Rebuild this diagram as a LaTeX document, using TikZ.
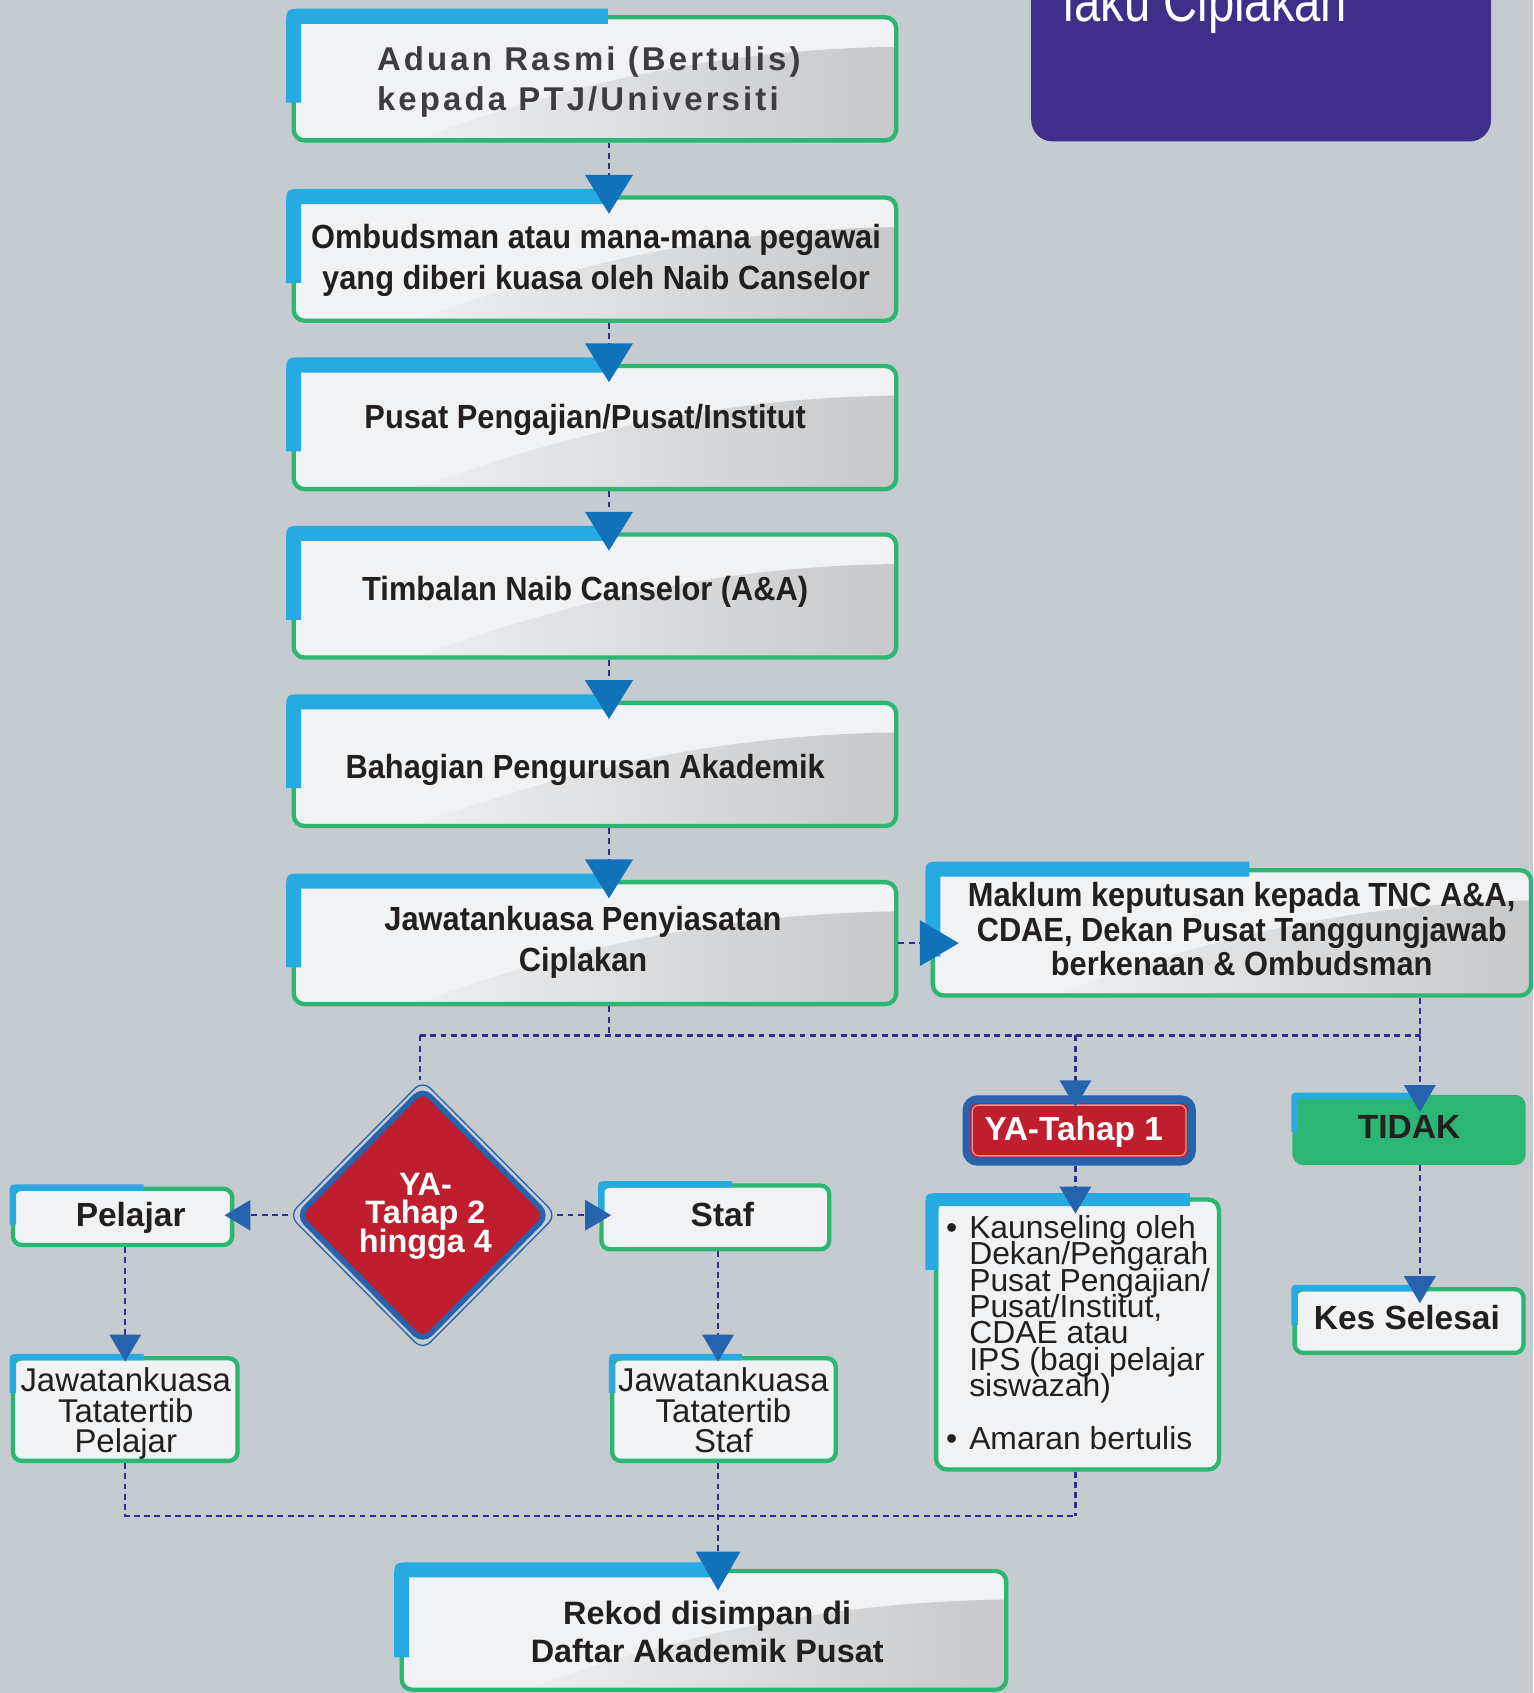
\documentclass[tikz,border=0pt]{standalone}
\usepackage{fontspec}
\setmainfont{Liberation Sans}
\newfontfamily\trackfont[LetterSpace=9.5]{Liberation Sans}
\usepackage{graphicx}
\usetikzlibrary{shapes.geometric,arrows.meta,calc}
\definecolor{bgc}{HTML}{C6CBCF}
\definecolor{boxf}{HTML}{F1F2F4}
\definecolor{gradL}{HTML}{EEEFF1}
\definecolor{gradR}{HTML}{C6C8CA}
\definecolor{grn}{HTML}{2BB673}
\definecolor{cyanb}{HTML}{27AAE1}
\definecolor{tric}{HTML}{1172BA}
\definecolor{tri2}{HTML}{2563AE}
\definecolor{dashc}{HTML}{2E3192}
\definecolor{redd}{HTML}{BE1E2D}
\definecolor{purp}{HTML}{3F2E8A}
\definecolor{txt}{HTML}{231F20}
\definecolor{txtg}{HTML}{3D3D3F}
\newcommand{\fcond}{\fontsize{31}{38}\selectfont\bfseries}
\newcommand{\fsb}{\fontsize{31}{31}\selectfont\bfseries}
\newcommand{\cond}[1]{\scalebox{0.92}[1]{\begin{tabular}{@{}c@{}}#1\end{tabular}}}
% blue L corner: outer x, outer y, thickness, bar end x, bar end y, radius
\newcommand{\BlueL}[6]{%
  \fill[cyanb] ({#1},{#5}) -- ({#1},{#2+#6}) .. controls ({#1},{#2}) .. ({#1+#6},{#2}) -- ({#4},{#2}) -- ({#4},{#2+#3}) -- ({#1+#3},{#2+#3}) -- ({#1+#3},{#5}) -- cycle;}
\newcommand{\Gloss}[4]{%
  \fill[boxf, rounded corners=10pt] ({#1},{#2}) rectangle ({#3},{#4});
  \begin{scope}
    \clip[rounded corners=10pt] ({#1},{#2}) rectangle ({#3},{#4});
    \shade[left color=gradL, right color=gradR] ({#1+0.2*(#3-#1)},{#4}) .. controls ({#1+0.45*(#3-#1)},{#4-0.45*(#4-#2)}) and ({#1+0.7*(#3-#1)},{#2+0.26*(#4-#2)}) .. ({#3},{#2+0.24*(#4-#2)}) -- ({#3},{#4}) -- cycle;
  \end{scope}}
% name, x0, y0, x1, y1, blue bar end x, blue bar end y
\newcommand{\BigBox}[7]{%
  \Gloss{#2}{#3}{#4}{#5}
  \draw[grn, line width=4pt, rounded corners=10pt] ({#2},{#3}) rectangle ({#4},{#5});
  \BlueL{#2-7}{#3-8}{14}{#6}{#7}{16}
  \node[inv, minimum width={(#4-#2)*1pt}, minimum height={(#5-#3)*1pt}] (#1) at ({(#2+#4)/2},{(#3+#5)/2}) {};}
\newcommand{\SmallBox}[7]{%
  \draw[grn, fill=boxf, line width=4pt, rounded corners=8pt] ({#2},{#3}) rectangle ({#4},{#5});
  \BlueL{#2-3}{#3-4}{6}{#6}{#7}{8}
  \node[inv, minimum width={(#4-#2)*1pt}, minimum height={(#5-#3)*1pt}] (#1) at ({(#2+#4)/2},{(#3+#5)/2}) {};}
\tikzset{
  inv/.style={inner sep=0pt, outer sep=0pt},
  dl/.style={draw=dashc, line width=2.2pt, dash pattern=on 5.5pt off 4pt},
  tipbig/.style={-{Triangle[width=44pt,length=36pt,color=tric]}},
  tipsm/.style={-{Triangle[width=29pt,length=25pt,color=tri2]}},
  tiph/.style={-{Triangle[width=28pt,length=24pt,color=tri2]}},
  tcond/.style={inner sep=0pt, text=txt, font=\fcond},
  tsb/.style={inner sep=0pt, anchor=base, text=txt, font=\fsb},
}
\begin{document}
\begin{tikzpicture}[x=1pt,y=-1pt]
\clip (0,0) rectangle (1420,1568);
\fill[bgc] (0,0) rectangle (1420,1568);

% title block
\node[fill=purp, rounded corners=20pt, minimum width=426pt, minimum height=171pt, inner sep=0pt] (ttl) at (1168,45.5) {};
\node[anchor=base west, inner sep=0pt, text=white, font=\fontsize{54}{54}\selectfont] (ttltxt) at (985,20) {\scalebox{0.81}[1]{laku Ciplakan}};

% main column
\BigBox{b1}{272}{16}{830}{130}{563}{95}
\BigBox{b2}{272}{183}{830}{297}{563}{262}
\BigBox{b3}{272}{339}{830}{453}{563}{418}
\BigBox{b4}{272}{495}{830}{609}{563}{574}
\BigBox{b5}{272}{651}{830}{765}{563}{730}
\BigBox{b6}{272}{817}{830}{930}{563}{896}
\BigBox{mak}{864}{806}{1418}{922}{1157}{886}
\BigBox{rek}{372}{1455}{932}{1565}{665}{1535}

% diamond
\node[diamond, draw=tri2, line width=1.2pt, minimum width=248pt, minimum height=250pt, inner sep=0pt, rounded corners=10pt] (diao) at (391.5,1125.5) {};
\node[diamond, draw=tri2, fill=redd, line width=5pt, minimum width=233pt, minimum height=236pt, inner sep=0pt, rounded corners=10pt] (dia) at (391.5,1125.5) {};

% small boxes
\SmallBox{pel}{12}{1101}{215}{1153}{133}{1134}
\SmallBox{staf}{557}{1098}{768}{1157}{678}{1125}
\SmallBox{jtp}{12}{1258}{220}{1353}{133}{1290}
\SmallBox{jts}{567}{1258}{774}{1353}{687}{1290}
\SmallBox{kes}{1199}{1194}{1411}{1253}{1309}{1227}

% TIDAK
\draw[grn, fill=grn, line width=4pt, rounded corners=8pt] (1199,1016) rectangle (1411,1077);
\BlueL{1196}{1012}{6}{1322}{1048}{8}
\node[inv, minimum width=212pt, minimum height=61pt] (tidak) at (1305,1046.5) {};

% YA-Tahap 1
\node[draw=tri2, fill=redd, line width=7pt, rounded corners=10pt, minimum width=209pt, minimum height=58pt, inner sep=0pt] (ya1) at (999.5,1047) {};
\draw[redd!45!white, line width=1.2pt, rounded corners=6pt] (900.5,1023.5) rectangle (1098.5,1070.5);

% bullet box
\draw[grn, fill=boxf, line width=4pt, rounded corners=10pt] (867,1111) rectangle (1129,1361);
\BlueL{857}{1105}{12}{1102}{1176}{14}
\node[inv, minimum width=262pt, minimum height=250pt] (bul) at (998,1236) {};

% connectors
\foreach \a/\b in {b1/b2,b2/b3,b3/b4,b4/b5,b5/b6}
  \draw[dl,tipbig] ($(\a.south)+(13,2)$) -- ($(\b.north)+(13,15)$);
\coordinate (jM) at (564,959);
\coordinate (jL) at (389,959);
\coordinate (jY) at (996,959);
\coordinate (jR) at (1315,959);
\draw[dl] ($(b6.south)+(13,2)$) -- (jM);
\draw[dl] (jL) -- (jR);
\draw[dl] ($(jR |- mak.south)+(0,2)$) -- (jR);
\draw[dl,tipsm] (jR) -- ($(jR |- tidak.north)+(0,14)$);
\draw[dl] (jL) -- (jL |- diao.north);
\draw[dl,tipsm] (jY) -- ($(jY |- ya1.north)+(0,11)$);
\draw[dl,tipsm] (jY |- ya1.south) -- ($(jY |- bul.north)+(0,13)$);
\draw[dl,-{Triangle[width=42pt,length=36pt,color=tric]}] ($(b6.east)+(2,0)$) -- ($(b6.east -| mak.west)+(24,0)$);
\draw[dl,tiph] (diao.west) -- ($(diao.west -| pel.east)+(-7,0)$);
\draw[dl,tiph] (diao.east) -- ($(diao.east -| staf.west)+(9,0)$);
\draw[dl,tipsm] ($(pel.south)+(2.5,2)$) -- ($(jtp.north)+(0,3)$);
\draw[dl,tipsm] ($(staf.south)+(2.5,2)$) -- ($(jts.north)+(-5.5,3)$);
\draw[dl,tipsm] ($(tidak.south)+(10,2)$) -- ($(kes.north)+(10,13)$);
\coordinate (kA) at (116,1404);
\coordinate (kB) at (665,1404);
\coordinate (kC) at (996,1404);
\draw[dl] ($(jtp.south)+(0,2)$) -- (kA) -- (kC);
\draw[dl] ($(bul.south -| kC)+(0,2)$) -- (kC);
\draw[dl,-{Triangle[width=41pt,length=36pt,color=tric]}] ($(jts.south -| kB)+(0,2)$) -- ($(kB |- rek.north)+(0,18)$);

% texts
\node[anchor=north west, inner sep=0pt, align=left, text=txtg, font={\trackfont\bfseries\fontsize{30.5}{37}\selectfont}] (t1) at (349,43) {Aduan Rasmi (Bertulis)\\kepada PTJ/Universiti};
\node[tcond, anchor=north] (t2) at (552,203.6) {\cond{Ombudsman atau mana-mana pegawai\\yang diberi kuasa oleh Naib Canselor}};
\node[tcond, anchor=base] (t3) at (542,397) {\scalebox{0.92}[1]{Pusat Pengajian/Pusat/Institut}};
\node[tcond, anchor=base] (t4) at (542,556) {\scalebox{0.92}[1]{Timbalan Naib Canselor (A\&A)}};
\node[tcond, anchor=base] (t5) at (542,721) {\scalebox{0.92}[1]{Bahagian Pengurusan Akademik}};
\node[tcond, anchor=north] (t6) at (540,834.9) {\cond{Jawatankuasa Penyiasatan\\Ciplakan}};
\node[tcond, anchor=north, font={\fontsize{31}{32}\selectfont\bfseries}] (t7) at (1150,816.8) {\cond{Maklum keputusan kepada TNC A\&A,\\CDAE, Dekan Pusat Tanggungjawab\\berkenaan \& Ombudsman}};
\node[anchor=north, inner sep=0pt, align=center, text=white, font={\fontsize{30}{26.5}\selectfont\bfseries\lineskiplimit=-50pt}] (diat) at (394,1086) {YA-\\Tahap 2\\hingga 4};
\node[tsb] (pelt) at (121,1136) {Pelajar};
\node[tsb] (staft) at (669,1136) {Staf};
\node[tsb] (tidakt) at (1305,1054.6) {TIDAK};
\node[tsb] (kest) at (1303,1231.6) {Kes Selesai};
\node[tsb, text=white] (ya1t) at (994.5,1056.6) {YA-Tahap 1};
\node[anchor=north, inner sep=0pt, align=center, text=txt, font={\fontsize{30.5}{28}\selectfont\lineskiplimit=-50pt}] (jtpt) at (116.5,1266.7) {Jawatankuasa\\Tatatertib\\Pelajar};
\node[anchor=north, inner sep=0pt, align=center, text=txt, font={\fontsize{30.5}{28}\selectfont\lineskiplimit=-50pt}] (jtst) at (670,1266.7) {Jawatankuasa\\Tatatertib\\Staf};
\node[anchor=north west, inner sep=0pt, align=left, text=txt, font={\fontsize{29.5}{24.4}\selectfont\lineskiplimit=-50pt}] (bult) at (876,1125.5) {\makebox[21.5pt][l]{•}Kaunseling oleh\\\hspace*{21.5pt}Dekan/Pengarah\\\hspace*{21.5pt}Pusat Pengajian/\\\hspace*{21.5pt}Pusat/Institut,\\\hspace*{21.5pt}CDAE atau\\\hspace*{21.5pt}IPS (bagi pelajar\\\hspace*{21.5pt}siswazah)\\[24.4pt]\makebox[21.5pt][l]{•}Amaran bertulis};
\node[anchor=north, inner sep=0pt, align=center, text=txt, font={\fontsize{30}{35}\selectfont\bfseries}] (rekt) at (655,1483) {Rekod disimpan di\\Daftar Akademik Pusat};
\end{tikzpicture}
\end{document}
